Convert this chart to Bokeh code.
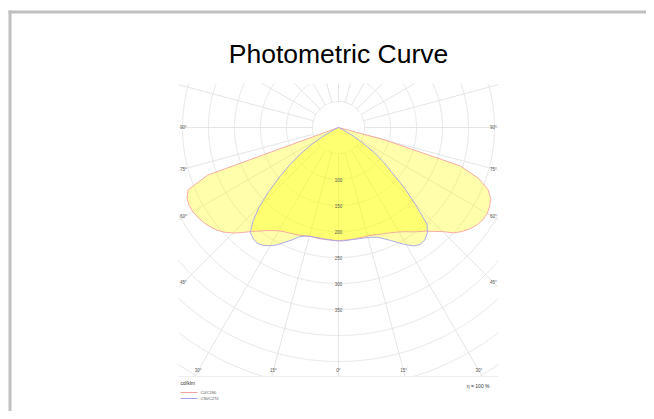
import numpy as np
from bokeh.plotting import figure
from bokeh.models import Range1d
from bokeh.core.properties import value
from bokeh.embed import file_html
from bokeh.resources import INLINE

# ---------------- data ----------------
title_text = "Photometric Curve"
gamma = [0, 2.5, 5, 7.5, 10, 12.5, 15, 17.5, 20, 22.5, 25, 27.5, 30, 32.5, 35, 37.5,
         40, 42.5, 45, 47.5, 50, 52.5, 55, 57.5, 60, 62.5, 65, 67.5, 70, 72.5, 75,
         77.5, 80, 82.5, 85, 87.5, 90]
c0 = [218, 217, 217, 216.5, 216, 216, 216, 217, 219, 221.5, 224, 227.5, 232, 237.5, 245,
      252.5, 260, 271, 283, 300, 311, 319.5, 326, 329.5, 330.5, 327.5, 323, 311, 287,
      245, 90, 0, 0, 0, 0, 0, 0]
c180 = [218, 217, 217, 217, 217, 216.5, 216.5, 218.5, 220.5, 222, 224, 226, 229.5, 235,
        242, 251, 261, 274, 287, 298, 306.5, 312.5, 317.5, 321, 323.5, 324, 321.5, 313,
        268, 0, 0, 0, 0, 0, 0, 0, 0]
c90 = [218, 218, 217.5, 217, 217.5, 218, 219, 221, 225, 232, 240, 250, 260.5, 270, 274.5,
       272.5, 266, 252, 209, 172, 133, 109, 84, 55, 30, 12, 0, 0, 0, 0, 0, 0, 0, 0, 0, 0, 0]
c270 = [218, 217.5, 216.5, 216, 215.5, 216, 216.5, 219, 224, 234, 243.5, 254, 262.5, 269,
        272, 269.5, 264, 243, 215, 182, 148, 118, 92, 65, 38, 18, 5, 0, 0, 0, 0, 0, 0, 0,
        0, 0, 0]
ring_values = [50, 100, 150, 200, 250, 300, 350, 400, 450, 500, 550]
ring_label_values = [100, 150, 200, 250, 300, 350]
radial_step = 15
angle_label_values = [0, 15, 30, 45, 60, 75, 90]
unit_label = "cd/klm"
eff_label = "η = 100 %"
legend_names = ["C0/C180", "C90/C270"]

# ---------------- layout (page pixels) ----------------
W, H = 646, 411
OX, OY = 0, 0            # figure offset on page (as observed)
CX, CY = 338, 127        # polar centre on page
S = 0.52                 # px per cd/klm
BOX = (178, 498, 83, 376)        # left, right, top, bottom (page px)
LBL = (183, 493, 370)            # label inset: left x, right x, bottom y

def X(px):
    return (px - CX) / S

def Y(py):
    return (CY - py) / S

p = figure(width=W, height=H, output_backend="svg", toolbar_location=None,
           x_range=Range1d(X(OX), X(OX + W)), y_range=Range1d(Y(OY + H), Y(OY)),
           x_axis_type=None, y_axis_type=None, min_border=0,
           background_fill_color="white", border_fill_color="white")
p.outline_line_color = None
p.grid.visible = False

bx0, bx1, by0, by1 = X(BOX[0]), X(BOX[1]), Y(BOX[3]), Y(BOX[2])
grid_col = "#dedede"

# rings clipped to the box
t = np.linspace(0, 2 * np.pi, 2881)
for r in ring_values:
    xs = r * np.cos(t)
    ys = r * np.sin(t)
    inside = (xs >= bx0) & (xs <= bx1) & (ys >= by0) & (ys <= by1)
    xs = np.where(inside, xs, np.nan)
    ys = np.where(inside, ys, np.nan)
    p.line(xs, ys, line_color=grid_col, line_width=0.8)

# radial lines
r0 = ring_values[0]
for g in range(0, 360, radial_step):
    a = np.radians(g)
    dx, dy = np.sin(a), -np.cos(a)
    ts = []
    if dx > 1e-9: ts.append(bx1 / dx)
    if dx < -1e-9: ts.append(bx0 / dx)
    if dy > 1e-9: ts.append(by1 / dy)
    if dy < -1e-9: ts.append(by0 / dy)
    tm = min(ts)
    p.line([r0 * dx, tm * dx], [r0 * dy, tm * dy], line_color=grid_col, line_width=0.8)

# bottom edge line
p.line([bx0, bx1], [by0, by0], line_color="#eeeeee", line_width=1)

# curves
g = np.radians(np.array(gamma))
def poly(left, right):
    left = np.array(left, float); right = np.array(right, float)
    xl = -left * np.sin(g); yl = -left * np.cos(g)
    xr = right * np.sin(g); yr = -right * np.cos(g)
    return np.concatenate([xl[::-1], xr]), np.concatenate([yl[::-1], yr])

wx, wy = poly(c180, c0)
nx, ny = poly(c270, c90)
p.patch(wx, wy, fill_color="#ffff00", fill_alpha=0.33, line_color=None)
p.patch(nx, ny, fill_color="#ffff00", fill_alpha=0.33, line_color=None)
pink, blue = "#f7a3a3", "#a3a3f2"
p.line(wx, wy, line_color=pink, line_width=0.9)
p.line(nx, ny, line_color=blue, line_width=0.9)

small_font = value("Liberation Sans")

# ring labels along 0 deg axis
p.text(x=[0] * len(ring_label_values), y=[-v for v in ring_label_values],
       text=[str(v) for v in ring_label_values], text_font=small_font,
       text_font_size=value("4.5px"), text_color="#555555",
       text_align="center", text_baseline="middle")

# angle labels
lx, ly, lt = [], [], []
xl_in, xr_in, yb_in = X(LBL[0]), X(LBL[1]), Y(LBL[2])
for a_deg in angle_label_values:
    a = np.radians(a_deg)
    sx, cy = np.sin(a), np.cos(a)
    for side in ([1, -1] if a_deg else [1]):
        dx, dy = side * sx, -cy
        cand = []
        if abs(dx) > 1e-9:
            cand.append((xr_in if dx > 0 else xl_in) / dx)
        if dy < -1e-9:
            cand.append(yb_in / dy)
        tm = min(cand)
        lx.append(tm * dx); ly.append(tm * dy); lt.append(f"{a_deg}°")
p.text(x=lx, y=ly, text=lt, text_font=small_font, text_font_size=value("4.5px"),
       text_color="#555555", text_align="center", text_baseline="middle")

# title
p.text(x=[0], y=[Y(53)], text=[title_text], text_font=value("Liberation Sans"),
       text_font_size=value("26.5px"), text_color="#000000",
       text_align="center", text_baseline="middle")

# unit and efficiency
p.text(x=[X(180)], y=[Y(382)], text=[unit_label], text_font=small_font,
       text_font_size=value("5px"), text_color="#333333",
       text_align="left", text_baseline="middle")
p.text(x=[X(489)], y=[Y(385)], text=[eff_label], text_font=small_font,
       text_font_size=value("5px"), text_color="#333333",
       text_align="right", text_baseline="middle")

# legend
for i, (name, col) in enumerate(zip(legend_names, [pink, blue])):
    yy = Y(392 + 6 * i)
    p.line([X(180), X(197)], [yy, yy], line_color=col, line_width=1)
    p.text(x=[X(200)], y=[yy], text=[name], text_font=small_font,
           text_font_size=value("4px"), text_color="#555555",
           text_align="left", text_baseline="middle")

# page frame (left and top border)
p.line([X(9.5), X(9.5)], [Y(10), Y(OY + H)], line_color="#c0c0c0", line_width=3)
p.line([X(8), X(OX + W)], [Y(11.5), Y(11.5)], line_color="#c0c0c0", line_width=3)

open("out.html", "w").write(file_html(p, INLINE))
